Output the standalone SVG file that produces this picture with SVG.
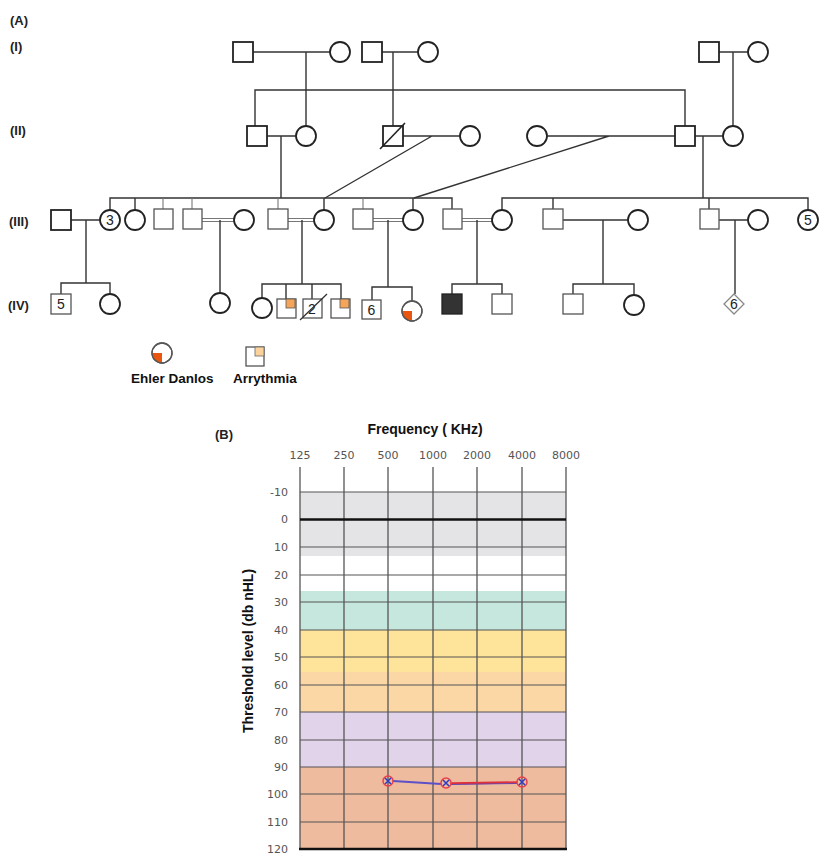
<svg xmlns="http://www.w3.org/2000/svg" width="829" height="865" viewBox="0 0 829 865">
<style>
.bg{fill:#fff}
.s1{fill:#fff;stroke:#222;stroke-width:1.8}
.s2{fill:#fff;stroke:#555;stroke-width:1.3}
.ln{stroke:#333;stroke-width:1.4;fill:none}
.lg{stroke:#777;stroke-width:1.1;fill:none}
.lbl{font-family:"Liberation Sans",Arial,sans-serif;font-weight:bold;font-size:13px;fill:#222}
.num{font-family:"Liberation Sans",Arial,sans-serif;font-size:14px;fill:#222;text-anchor:middle}
.leg{font-family:"Liberation Sans",Arial,sans-serif;font-weight:bold;font-size:13.5px;fill:#111}
.ax{font-family:"Liberation Sans",Arial,sans-serif;font-weight:bold;font-size:14px;fill:#111}
.tk{font-family:"DejaVu Sans","Liberation Sans",sans-serif;font-size:11px;fill:#555}
.gh{stroke:#555;stroke-width:1.2}
.gv{stroke:#555;stroke-width:1.3}
.ed{fill:#e8560f}
.ar{fill:#f5a55a;stroke:#555;stroke-width:0.8}
.arl{fill:#fcd29c;stroke:#666;stroke-width:0.8}
.mk{fill:none;stroke:#e8404a;stroke-width:1.5}
.mx{stroke:#2a3cc8;stroke-width:1.5}
</style>
<rect class="bg" x="0" y="0" width="829" height="865"/>

<g id="labels">
<text class="lbl" x="10" y="25">(A)</text>
<text class="lbl" x="10" y="51">(I)</text>
<text class="lbl" x="10" y="135">(II)</text>
<text class="lbl" x="9" y="226">(III)</text>
<text class="lbl" x="8" y="310">(IV)</text>
</g>

<g id="connectors">
<path class="ln" d="M253 52H330M306 52V126M382 52H418M393 52V126M719 52H748M733 52V126"/>
<path class="ln" d="M255 126V90H685V126"/>
<path class="ln" d="M267 136H296M281 136V198M403 136H460M432 136L325 198M547 136H675M609 136L414 198M695 136H723M703 136V198"/>
<path class="ln" d="M110 210V198H452V209M135 198V210M324 198V210M413 198V210"/>
<path class="lg" d="M163 198V209M192 198V209M278 198V209M363 198V209"/>
<path class="ln" d="M502 210V198H808V210M553 198V209M709 198V209"/>
<path class="ln" d="M71 220H100M86 220V283"/>
<path class="lg" d="M202 218.5H235M202 221.5H235M288 218.5H314M288 221.5H314M373 218.5H403M373 221.5H403M462 218.5H492M462 221.5H492"/>
<path class="ln" d="M220 220V293M302 220V284M388 220V287M477 220V284M563 220H628M603 220V284M719 220H748M735 220V294"/>
<path class="ln" d="M61 294V283H110V294M262 298V284H341V299M286 284V299M312 284V299M372 300V287H412V301M452 294V284H502V294M573 294V284H634V295"/>
</g>

<g id="I-1"><rect class="s1" x="233" y="42" width="20" height="20"/></g>
<g id="I-2"><circle class="s1" cx="340" cy="52" r="10"/></g>
<g id="I-3"><rect class="s1" x="362" y="42" width="20" height="20"/></g>
<g id="I-4"><circle class="s1" cx="428" cy="52" r="10"/></g>
<g id="I-5"><rect class="s1" x="699" y="42" width="20" height="20"/></g>
<g id="I-6"><circle class="s1" cx="758" cy="52" r="10"/></g>

<g id="II-1"><rect class="s1" x="247" y="126" width="20" height="20"/></g>
<g id="II-2"><circle class="s1" cx="306" cy="136" r="10"/></g>
<g id="II-3"><rect class="s1" x="383" y="126" width="20" height="20"/><line x1="380" y1="149" x2="405" y2="123" stroke="#222" stroke-width="1.6"/></g>
<g id="II-4"><circle class="s1" cx="470" cy="136" r="10"/></g>
<g id="II-5"><circle class="s1" cx="537" cy="136" r="10"/></g>
<g id="II-6"><rect class="s1" x="675" y="126" width="20" height="20"/></g>
<g id="II-7"><circle class="s1" cx="733" cy="136" r="10"/></g>

<g id="III-1"><rect class="s1" x="51" y="210" width="20" height="20"/></g>
<g id="III-2"><circle class="s1" cx="110" cy="220" r="10"/><text class="num" x="110" y="225">3</text></g>
<g id="III-3"><circle class="s1" cx="135" cy="220" r="10"/></g>
<g id="III-4"><rect class="s2" x="154" y="209" width="19" height="20"/></g>
<g id="III-5"><rect class="s2" x="183" y="209" width="19" height="20"/></g>
<g id="III-6"><circle class="s1" cx="244" cy="220" r="10"/></g>
<g id="III-7"><rect class="s2" x="268" y="209" width="20" height="20"/></g>
<g id="III-8"><circle class="s1" cx="324" cy="220" r="10"/></g>
<g id="III-9"><rect class="s2" x="353" y="209" width="20" height="20"/></g>
<g id="III-10"><circle class="s1" cx="413" cy="220" r="10"/></g>
<g id="III-11"><rect class="s2" x="443" y="209" width="19" height="20"/></g>
<g id="III-12"><circle class="s1" cx="502" cy="220" r="10"/></g>
<g id="III-13"><rect class="s2" x="543" y="209" width="20" height="20"/></g>
<g id="III-14"><circle class="s1" cx="638" cy="220" r="10"/></g>
<g id="III-15"><rect class="s2" x="700" y="209" width="19" height="20"/></g>
<g id="III-16"><circle class="s1" cx="758" cy="220" r="10"/></g>
<g id="III-17"><circle class="s1" cx="808" cy="220" r="10"/><text class="num" x="808" y="225">5</text></g>

<g id="IV-1"><rect class="s2" x="51" y="294" width="20" height="20"/><text class="num" x="61" y="309">5</text></g>
<g id="IV-2"><circle class="s1" cx="110" cy="304" r="10"/></g>
<g id="IV-3"><circle class="s1" cx="220" cy="303" r="10"/></g>
<g id="IV-4"><circle class="s1" cx="262" cy="308" r="10"/></g>
<g id="IV-5"><rect class="s2" x="277" y="299" width="19" height="19"/><rect class="ar" x="286" y="299" width="9" height="9"/></g>
<g id="IV-6"><rect class="s2" x="303" y="299" width="19" height="19"/><text class="num" x="312" y="314" fill="#444">2</text><line x1="300" y1="320" x2="327" y2="294" stroke="#333" stroke-width="1.3"/></g>
<g id="IV-7"><rect class="s2" x="331" y="299" width="19" height="19"/><rect class="ar" x="340" y="299" width="9" height="9"/></g>
<g id="IV-8"><rect class="s2" x="362" y="300" width="19" height="19"/><text class="num" x="371.5" y="315">6</text></g>
<g id="IV-9"><circle class="s2" cx="412" cy="311" r="10"/><path class="ed" d="M412 311H402A10 10 0 0 0 412 321Z"/><circle cx="412" cy="311" r="10" fill="none" stroke="#555" stroke-width="1.3"/></g>
<g id="IV-10"><rect x="442" y="294" width="20" height="20" fill="#333" stroke="#222" stroke-width="1.3"/></g>
<g id="IV-11"><rect class="s2" x="492" y="294" width="20" height="20"/></g>
<g id="IV-12"><rect class="s2" x="563" y="294" width="20" height="20"/></g>
<g id="IV-13"><circle class="s1" cx="634" cy="305" r="10"/></g>
<g id="IV-14"><path d="M734 294L744 304L734 314L724 304Z" fill="#fff" stroke="#888" stroke-width="1.3"/><text class="num" x="734" y="309" font-size="13">6</text></g>

<g id="legend">
<circle class="s2" cx="162" cy="353" r="10"/><path class="ed" d="M162 353H152A10 10 0 0 0 162 363Z"/><circle cx="162" cy="353" r="10" fill="none" stroke="#555" stroke-width="1.3"/>
<text class="leg" x="131" y="383">Ehler Danlos</text>
<rect class="s2" x="246" y="347" width="18" height="19"/><rect class="arl" x="255" y="347" width="9" height="9"/>
<text class="leg" x="233" y="383">Arrythmia</text>
</g>

<g id="audiogram">
<text class="lbl" x="215" y="439">(B)</text>
<text class="ax" x="425" y="434" text-anchor="middle">Frequency ( KHz)</text>
<g class="tk" text-anchor="middle">
<text x="300" y="459">125</text><text x="344" y="459">250</text><text x="388" y="459">500</text><text x="433" y="459">1000</text><text x="477" y="459">2000</text><text x="522" y="459">4000</text><text x="566" y="459">8000</text>
</g>
<rect x="300" y="492" width="266" height="64" fill="#e4e4e6"/>
<rect x="300" y="591" width="266" height="39" fill="#c6e7dd"/>
<rect x="300" y="630" width="266" height="42" fill="#fee49a"/>
<rect x="300" y="672" width="266" height="40" fill="#fbd7a6"/>
<rect x="300" y="712" width="266" height="55" fill="#e0d3ea"/>
<rect x="300" y="767" width="266" height="82" fill="#efbb9f"/>
<g class="gh">
<line x1="300" y1="492" x2="566" y2="492"/>
<line x1="300" y1="547" x2="566" y2="547"/>
<line x1="300" y1="575" x2="566" y2="575"/>
<line x1="300" y1="602" x2="566" y2="602"/>
<line x1="300" y1="630" x2="566" y2="630"/>
<line x1="300" y1="657" x2="566" y2="657"/>
<line x1="300" y1="685" x2="566" y2="685"/>
<line x1="300" y1="712" x2="566" y2="712"/>
<line x1="300" y1="740" x2="566" y2="740"/>
<line x1="300" y1="767" x2="566" y2="767"/>
<line x1="300" y1="794" x2="566" y2="794"/>
<line x1="300" y1="822" x2="566" y2="822"/>
</g>
<g class="gv">
<line x1="300" y1="467" x2="300" y2="849"/>
<line x1="344" y1="467" x2="344" y2="849"/>
<line x1="388" y1="467" x2="388" y2="849"/>
<line x1="433" y1="467" x2="433" y2="849"/>
<line x1="477" y1="467" x2="477" y2="849"/>
<line x1="522" y1="467" x2="522" y2="849"/>
<line x1="566" y1="467" x2="566" y2="849"/>
</g>
<line x1="300" y1="519.5" x2="566" y2="519.5" stroke="#111" stroke-width="2.5"/>
<line x1="299" y1="849" x2="567" y2="849" stroke="#111" stroke-width="2.5"/>
<g class="tk" text-anchor="end">
<text x="288" y="496">-10</text><text x="288" y="523">0</text><text x="288" y="551">10</text><text x="288" y="579">20</text><text x="288" y="606">30</text><text x="288" y="634">40</text><text x="288" y="661">50</text><text x="288" y="689">60</text><text x="288" y="716">70</text><text x="288" y="744">80</text><text x="288" y="771">90</text><text x="288" y="798">100</text><text x="288" y="826">110</text><text x="288" y="853">120</text>
</g>
<text class="ax" transform="translate(253 651) rotate(-90)" text-anchor="middle" font-size="14.5">Threshold level (db nHL)</text>
<line x1="393" y1="781" x2="441" y2="784" stroke="#5b50c8" stroke-width="2"/>
<line x1="451" y1="783.5" x2="517" y2="782.5" stroke="#e0303a" stroke-width="2.5"/>
<line x1="451" y1="784.5" x2="517" y2="783.5" stroke="#4a48c8" stroke-width="0.8"/>
<circle class="mk" cx="388" cy="781" r="5"/><path class="mx" d="M385 778L391 784M391 778L385 784"/>
<circle class="mk" cx="446" cy="783" r="5"/><path class="mx" d="M443 780L449 786M449 780L443 786"/>
<circle class="mk" cx="522" cy="782" r="5"/><path class="mx" d="M519 779L525 785M525 779L519 785"/>
</g>
</svg>
